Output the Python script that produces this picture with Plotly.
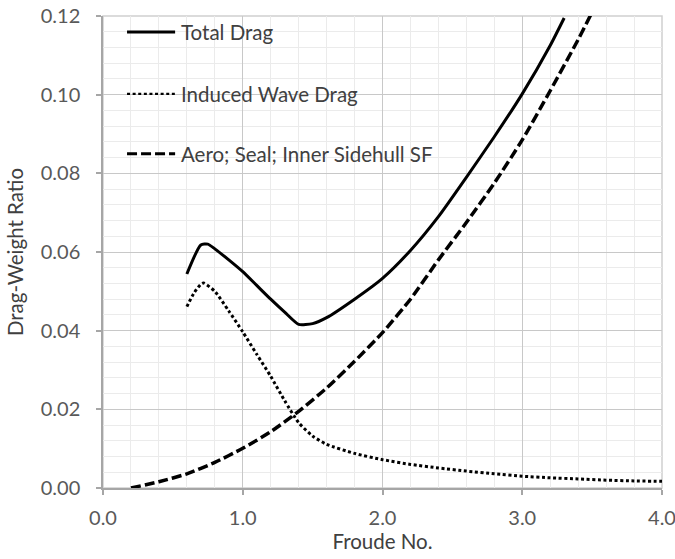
import plotly.graph_objects as go

# Froude number samples for each drag component
froude_total = [0.6, 0.7, 0.75, 0.8, 0.9, 1.0, 1.1, 1.2, 1.3, 1.4, 1.5, 1.6, 1.8,
                2.0, 2.2, 2.4, 2.6, 2.8, 3.0, 3.2, 3.3]
total_drag = [0.0544, 0.0618, 0.0620, 0.0608, 0.0580, 0.0550, 0.0515, 0.0480, 0.0447,
              0.0416, 0.0418, 0.0433, 0.0480, 0.0533, 0.0604, 0.0690, 0.0790, 0.0893,
              0.1002, 0.1125, 0.1195]

froude_wave = [0.6, 0.65, 0.7, 0.72, 0.8, 0.9, 1.0, 1.1, 1.2, 1.3, 1.4, 1.5, 1.6, 1.8,
               2.0, 2.2, 2.4, 2.6, 2.8, 3.0, 3.2, 3.4, 3.6, 3.8, 4.0]
wave_drag = [0.0461, 0.0495, 0.0518, 0.0521, 0.0500, 0.0450, 0.0397, 0.0340, 0.0284,
             0.0222, 0.0166, 0.0132, 0.0111, 0.0088, 0.0072, 0.0060, 0.0051, 0.0043,
             0.0036, 0.0030, 0.0026, 0.0023, 0.0020, 0.0018, 0.0017]

froude_aero = [0.2, 0.4, 0.6, 0.8, 1.0, 1.2, 1.4, 1.6, 1.8, 2.0, 2.2, 2.4, 2.6, 2.8,
               3.0, 3.2, 3.4, 3.5]
aero_drag = [0.0000, 0.0016, 0.0036, 0.0065, 0.0101, 0.0143, 0.0195, 0.0254, 0.0322,
             0.0395, 0.0480, 0.0580, 0.0675, 0.0775, 0.0885, 0.1010, 0.1140, 0.1210]

series_names = ["Total Drag", "Induced Wave Drag", "Aero; Seal; Inner Sidehull SF"]
x_ticks = [0.0, 1.0, 2.0, 3.0, 4.0]
y_ticks = [0.00, 0.02, 0.04, 0.06, 0.08, 0.10, 0.12]

FONT = "Lato"
dash_style = "10px,4px"
dot_style = "3px,2.6px"

fig = go.Figure()
fig.add_trace(go.Scatter(x=froude_total, y=total_drag, mode="lines", name=series_names[0],
                         line=dict(color="black", width=3, shape="spline", smoothing=0.6)))
fig.add_trace(go.Scatter(x=froude_wave, y=wave_drag, mode="lines", name=series_names[1],
                         line=dict(color="black", width=3, dash=dot_style, shape="spline",
                                   smoothing=0.6)))
fig.add_trace(go.Scatter(x=froude_aero, y=aero_drag, mode="lines", name=series_names[2],
                         line=dict(color="black", width=3.5, dash=dash_style, shape="spline",
                                   smoothing=0.6)))

# Light frame around the plotting area
fig.add_shape(type="rect", xref="paper", yref="paper", x0=0, x1=1, y0=0, y1=1,
              line=dict(color="#d0d0d0", width=1.5), layer="below")

# In-plot legend: short line keys followed by labels
legend_rows = [(0.966, None, 3), (0.835, dot_style, 2.2), (0.708, dash_style, 3)]
for name, (yp, dash, w) in zip(series_names, legend_rows):
    fig.add_shape(type="line", xref="paper", yref="paper", x0=0.043, x1=0.129, y0=yp, y1=yp,
                  line=dict(color="black", width=w, dash=dash))
    fig.add_annotation(xref="paper", yref="paper", x=0.136, y=yp, text=name, showarrow=False,
                       xanchor="left", yanchor="middle",
                       font=dict(family=FONT, size=20.5, color="#404040"))

axis_common = dict(
    showline=True, linecolor="#a6a6a6", linewidth=1.5,
    showgrid=True, gridcolor="#c8c8c8", gridwidth=1.2,
    ticks="outside", ticklen=5, tickcolor="#a6a6a6", tickwidth=1.5,
    tickfont=dict(family=FONT, size=20, color="#595959"),
    zeroline=False, automargin=False, ticklabeloverflow="allow",
)

fig.update_xaxes(range=[0, 4.0], tickvals=x_ticks, tickformat=".1f",
                 minor=dict(dtick=0.2, showgrid=True, gridcolor="#ebebeb", gridwidth=1),
                 title=dict(text="Froude No.", font=dict(family=FONT, size=20.5, color="#404040"),
                            standoff=7),
                 ticklabelstandoff=6, **axis_common)
fig.update_yaxes(range=[0, 0.12], tickvals=y_ticks, tickformat=".2f",
                 minor=dict(dtick=0.004, showgrid=True, gridcolor="#ebebeb", gridwidth=1),
                 title=dict(text="Drag-Weight Ratio", font=dict(family=FONT, size=20.5, color="#404040"),
                            standoff=12),
                 ticklabelstandoff=12, **axis_common)

fig.update_layout(
    width=675, height=559,
    margin=dict(l=103, r=13, t=16, b=71),
    paper_bgcolor="white", plot_bgcolor="white",
    showlegend=False,
)

fig.write_html("out.html")
